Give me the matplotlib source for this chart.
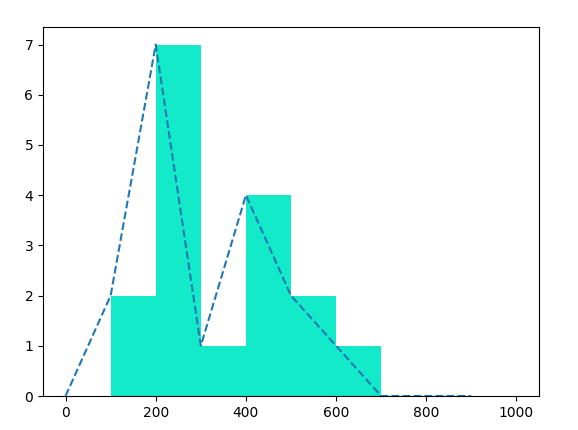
import numpy as np
import matplotlib.pyplot as plt

# bin edges and counts
bin_edges = [0, 100, 200, 300, 400, 500, 600, 700, 800, 900, 1000]
counts = [0, 2, 7, 1, 4, 2, 1, 0, 0, 0]

fig = plt.figure(figsize=(5.78, 4.30), dpi=100)
fig.subplots_adjust(left=43 / 578, right=539 / 578, top=1 - 27 / 430, bottom=1 - 396 / 430)
plt.hist(bin_edges[:-1], bins=bin_edges, weights=counts, color='#13eac9')
plt.plot(bin_edges[:-1], counts, '--')
plt.savefig('out.png')
